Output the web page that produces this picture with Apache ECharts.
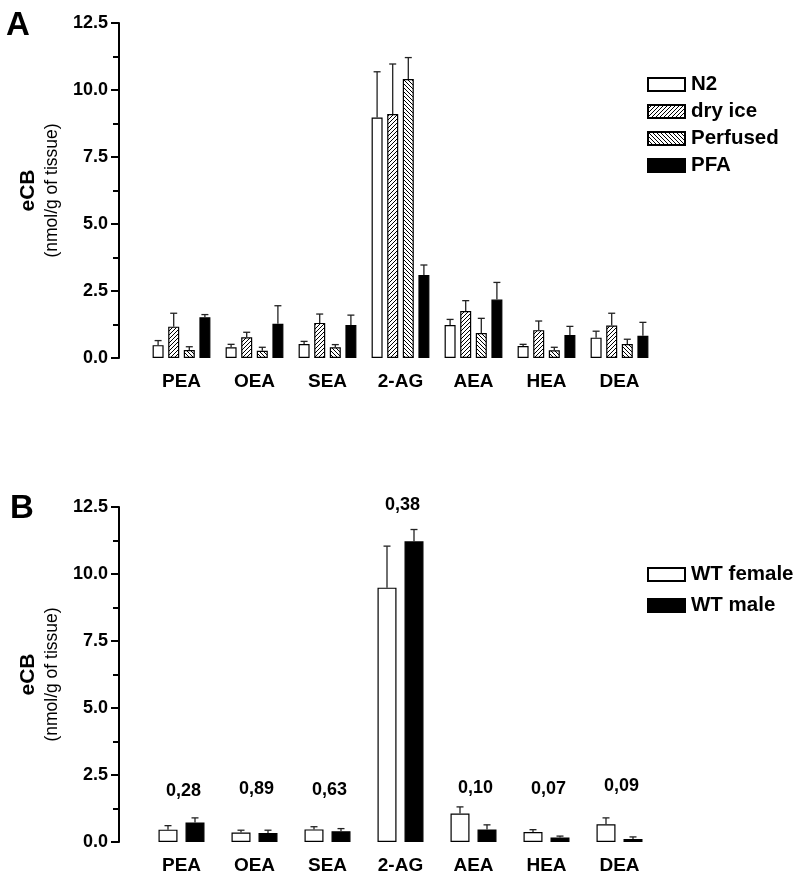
<!DOCTYPE html>
<html>
<head>
<meta charset="utf-8">
<script src="https://cdn.jsdelivr.net/npm/echarts@6/dist/echarts.min.js"></script>
<style>html,body{margin:0;padding:0;background:#fff}#c{width:800px;height:880px}</style>
</head>
<body>
<div id="c"></div>
<script>
// ---------- data ----------
const categories = ['PEA', 'OEA', 'SEA', '2-AG', 'AEA', 'HEA', 'DEA'];
const yTicks = [0, 2.5, 5, 7.5, 10, 12.5];

// Panel A (mean, SEM)
const n2Mean       = [0.48, 0.40, 0.52, 8.97, 1.23, 0.45, 0.76];
const n2Sem        = [0.17, 0.11, 0.10, 1.71, 0.21, 0.06, 0.24];
const dryIceMean   = [1.17, 0.77, 1.31, 9.10, 1.75, 1.04, 1.21];
const dryIceSem    = [0.50, 0.19, 0.33, 1.87, 0.39, 0.34, 0.46];
const perfusedMean = [0.30, 0.27, 0.40, 10.41, 0.93, 0.29, 0.52];
const perfusedSem  = [0.12, 0.13, 0.10, 0.80, 0.55, 0.11, 0.18];
const pfaMean      = [1.52, 1.28, 1.23, 3.10, 2.18, 0.86, 0.83];
const pfaSem       = [0.10, 0.67, 0.37, 0.37, 0.64, 0.32, 0.50];

// Panel B (mean, SEM)
const femaleMean = [0.46, 0.35, 0.47, 9.49, 1.06, 0.37, 0.66];
const femaleSem  = [0.15, 0.09, 0.10, 1.55, 0.25, 0.09, 0.24];
const maleMean   = [0.73, 0.34, 0.40, 11.22, 0.47, 0.17, 0.11];
const maleSem    = [0.17, 0.10, 0.10, 0.44, 0.17, 0.05, 0.08];
const pValues    = ['0,28', '0,89', '0,63', '0,38', '0,10', '0,07', '0,09'];
const pValueLevel = [1.90, 1.97, 1.94, 12.56, 2.01, 1.97, 2.08];

// ---------- styling helpers ----------
const FONT = '"Liberation Sans", Arial, Helvetica, sans-serif';

function hatch(dir) {
  const c = document.createElement('canvas');
  c.width = 8; c.height = 8;
  const g = c.getContext('2d');
  g.fillStyle = '#fff'; g.fillRect(0, 0, 8, 8);
  g.strokeStyle = '#000'; g.lineWidth = 1;
  g.beginPath();
  for (let k = -8; k <= 16; k += 4) {
    if (dir === 'fwd') { g.moveTo(k, 8); g.lineTo(k + 8, 0); }
    else { g.moveTo(k, 0); g.lineTo(k + 8, 8); }
  }
  g.stroke();
  return { image: c, repeat: 'repeat' };
}

function barSeries(name, data, color, gi, bw, gapPct) {
  return {
    type: 'bar', name: name, data: data,
    xAxisIndex: gi, yAxisIndex: gi,
    barWidth: bw, barGap: gapPct,
    itemStyle: { color: color, borderColor: '#000', borderWidth: 1.2 },
    emphasis: { disabled: true },
    z: 2
  };
}

function errSeries(mean, sem, idx, n, gi, bw, gapPx) {
  return {
    type: 'custom', xAxisIndex: gi, yAxisIndex: gi, silent: true, z: 3,
    data: mean.map((m, j) => [j, m, m + sem[j]]),
    renderItem: function (params, api) {
      const base = api.coord([api.value(0), api.value(1)]);
      const top = api.coord([api.value(0), api.value(2)]);
      const x = base[0] + (idx - (n - 1) / 2) * (bw + gapPx);
      const st = { stroke: '#222', lineWidth: 1.3 };
      return {
        type: 'group', children: [
          { type: 'line', shape: { x1: x, y1: base[1], x2: x, y2: top[1] }, style: st },
          { type: 'line', shape: { x1: x - 3.5, y1: top[1], x2: x + 3.5, y2: top[1] }, style: st }
        ]
      };
    }
  };
}

function xAxis(gi, margin) {
  return {
    type: 'category', gridIndex: gi, data: categories,
    axisLine: { show: false }, axisTick: { show: false },
    axisLabel: { fontFamily: FONT, fontWeight: 'bold', fontSize: 19, color: '#000', margin: margin }
  };
}

function yAxis(gi) {
  return {
    type: 'value', gridIndex: gi, min: yTicks[0], max: yTicks[yTicks.length - 1], interval: 2.5,
    offset: 26,
    axisLine: { show: true, lineStyle: { color: '#000', width: 2 } },
    axisTick: { show: true, length: 8, lineStyle: { color: '#000', width: 2 } },
    minorTick: { show: true, splitNumber: 2, length: 6, lineStyle: { color: '#000', width: 2 } },
    splitLine: { show: false },
    axisLabel: { fontFamily: FONT, fontWeight: 'bold', fontSize: 18, color: '#000', margin: 11,
                 formatter: v => v.toFixed(1) },
    name: '{a|eCB}\n{b|(nmol/g of tissue)}',
    nameLocation: 'middle', nameRotate: 90, nameGap: 55,
    nameTextStyle: {
      rich: {
        a: { fontFamily: FONT, fontWeight: 'bold', fontSize: 21, color: '#000', lineHeight: 24, align: 'center' },
        b: { fontFamily: FONT, fontSize: 17.5, color: '#000', lineHeight: 24, align: 'center' }
      }
    }
  };
}

const bwA = 11, gapA = 4.6;
const bwB = 19, gapB = 8;
const pctA = (gapA / bwA * 100) + '%';
const pctB = (gapB / bwB * 100) + '%';

const legendText = { fontFamily: FONT, fontWeight: 'bold', fontSize: 20.5, color: '#000', padding: [0, 0, 0, 1] };

const option = {
  backgroundColor: '#fff',
  animation: false,
  title: [
    { text: 'A', left: 1, top: 4, textStyle: { fontFamily: FONT, fontWeight: 'bold', fontSize: 33, color: '#000' } },
    { text: 'B', left: 5, top: 487, textStyle: { fontFamily: FONT, fontWeight: 'bold', fontSize: 33, color: '#000' } }
  ],
  grid: [
    { left: 145, width: 511, top: 23, height: 335 },
    { left: 145, width: 511, top: 507, height: 335 }
  ],
  legend: [
    {
      data: ['N2', 'dry ice', 'Perfused', 'PFA'], orient: 'vertical', left: 642, top: 69,
      itemWidth: 37, itemHeight: 13, itemGap: 6, selectedMode: false, icon: 'rect',
      textStyle: legendText
    },
    {
      data: ['WT female', 'WT male'], orient: 'vertical', left: 642, top: 559,
      itemWidth: 37, itemHeight: 13, itemGap: 10, selectedMode: false, icon: 'rect',
      textStyle: legendText
    }
  ],
  xAxis: [xAxis(0, 14), xAxis(1, 14)],
  yAxis: [yAxis(0), yAxis(1)],
  series: [
    barSeries('N2', n2Mean, '#fff', 0, bwA, pctA),
    barSeries('dry ice', dryIceMean, hatch('fwd'), 0, bwA, pctA),
    barSeries('Perfused', perfusedMean, hatch('back'), 0, bwA, pctA),
    barSeries('PFA', pfaMean, '#000', 0, bwA, pctA),
    errSeries(n2Mean, n2Sem, 0, 4, 0, bwA, gapA),
    errSeries(dryIceMean, dryIceSem, 1, 4, 0, bwA, gapA),
    errSeries(perfusedMean, perfusedSem, 2, 4, 0, bwA, gapA),
    errSeries(pfaMean, pfaSem, 3, 4, 0, bwA, gapA),

    barSeries('WT female', femaleMean, '#fff', 1, bwB, pctB),
    barSeries('WT male', maleMean, '#000', 1, bwB, pctB),
    errSeries(femaleMean, femaleSem, 0, 2, 1, bwB, gapB),
    errSeries(maleMean, maleSem, 1, 2, 1, bwB, gapB),
    {
      type: 'custom', xAxisIndex: 1, yAxisIndex: 1, silent: true, z: 5, clip: false,
      data: pValueLevel.map((v, j) => [j, v]),
      renderItem: function (params, api) {
        const p = api.coord([api.value(0), api.value(1)]);
        return {
          type: 'text', x: p[0] + 2, y: p[1],
          style: {
            text: pValues[params.dataIndex], fill: '#000',
            font: 'bold 18px ' + FONT, align: 'center', verticalAlign: 'middle'
          }
        };
      }
    }
  ]
};

const chart = echarts.init(document.getElementById('c'), null, { renderer: 'canvas' });
chart.setOption(option);
</script>
</body>
</html>
